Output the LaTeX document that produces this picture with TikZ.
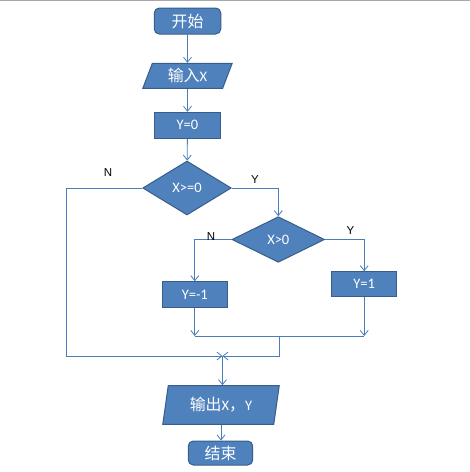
\documentclass[tikz,border=0pt]{standalone}
\usepackage{fontspec}
\setmainfont{Carlito}
\newfontfamily\cjk[Scale=1.1]{Noto Sans CJK SC}
\newfontfamily\lab{Liberation Sans}
\usetikzlibrary{shapes.geometric,arrows.meta}
\definecolor{boxfill}{HTML}{4F81BD}
\definecolor{boxdraw}{HTML}{385D8A}
\definecolor{linec}{HTML}{4A7EBB}
\definecolor{topline}{HTML}{A8A8A8}
\begin{document}
\begin{tikzpicture}[x=1pt,y=-1pt,
  box/.style={draw=boxdraw, fill=boxfill, line width=1pt, text=white, font=\fontsize{14.5}{16}\selectfont, inner sep=0pt},
  rbox/.style={box, rectangle, rounded corners=5pt},
  pbox/.style={box, rectangle},
  para/.style={box, trapezium, trapezium stretches=true},
  dia/.style={box, diamond},
  conn/.style={draw=linec, line width=0.8pt},
  arr/.style={conn, -{Straight Barb[length=5pt,width=8pt]}},
  lbl/.style={font=\lab\fontsize{11.5}{12}\selectfont, text=black, inner sep=0pt}]
\useasboundingbox (0,0) rectangle (470,472);
\draw[draw=topline, line width=1.2pt] (0,0.8) -- (470,0.8);

\node[rbox, minimum width=66.5pt, minimum height=26pt] (start) at (187.5,21) {{\cjk 开始}};
\node[para, trapezium left angle=70, trapezium right angle=110, minimum width=89.6pt, minimum height=25pt] (in) at (187.5,75.8) {{\cjk 输入}X};
\node[pbox, minimum width=66.4pt, minimum height=26pt] (y0) at (187.5,125.3) {Y=0};
\node[dia, minimum width=88.5pt, minimum height=54pt] (d1) at (187,188) {X>=0};
\node[dia, minimum width=92.6pt, minimum height=45.6pt] (d2) at (278.3,239.5) {X>0};
\node[pbox, minimum width=65pt, minimum height=25.6pt] (yn) at (194.8,294.5) {Y=-1};
\node[pbox, minimum width=65pt, minimum height=25pt] (yp) at (364.2,284.2) {Y=1};
\node[para, trapezium left angle=78, trapezium right angle=102, minimum width=116.6pt, minimum height=38.6pt] (out) at (221,405) {{\cjk 输出}X{\cjk ，}Y};
\node[rbox, minimum width=64.4pt, minimum height=24pt] (end) at (220.5,453) {{\cjk 结束}};

\coordinate (m) at (222.5,356);
\coordinate (lft) at (66.7,356);
\coordinate (jn) at (279.3,336);

\draw[arr] (start) -- (in);
\draw[arr] (in) -- (y0);
\draw[arr] (y0) -- (d1);
\draw[arr] (d1.east) -| (d2.north);
\draw[arr] (d1.west) -| (lft) -- (m);
\draw[arr] (d2.west) -| (yn.north);
\draw[arr] (d2.east) -| (yp.north);
\draw[arr] (yn.south) -- (yn.south |- jn);
\draw[arr] (yp.south) -- (yp.south |- jn);
\draw[conn] (yn.south |- jn) -- (yp.south |- jn);
\draw[arr] (jn) |- (m);
\draw[arr] (m) -- (m |- out.north);
\draw[arr] (out.south) -- (out.south |- end.north);

\node[lbl] (n1) at (108,173) {N};
\node[lbl] (y1) at (255,179.5) {Y};
\node[lbl] (n2) at (211,237) {N};
\node[lbl] (y2) at (350.5,230.5) {Y};
\end{tikzpicture}
\end{document}
